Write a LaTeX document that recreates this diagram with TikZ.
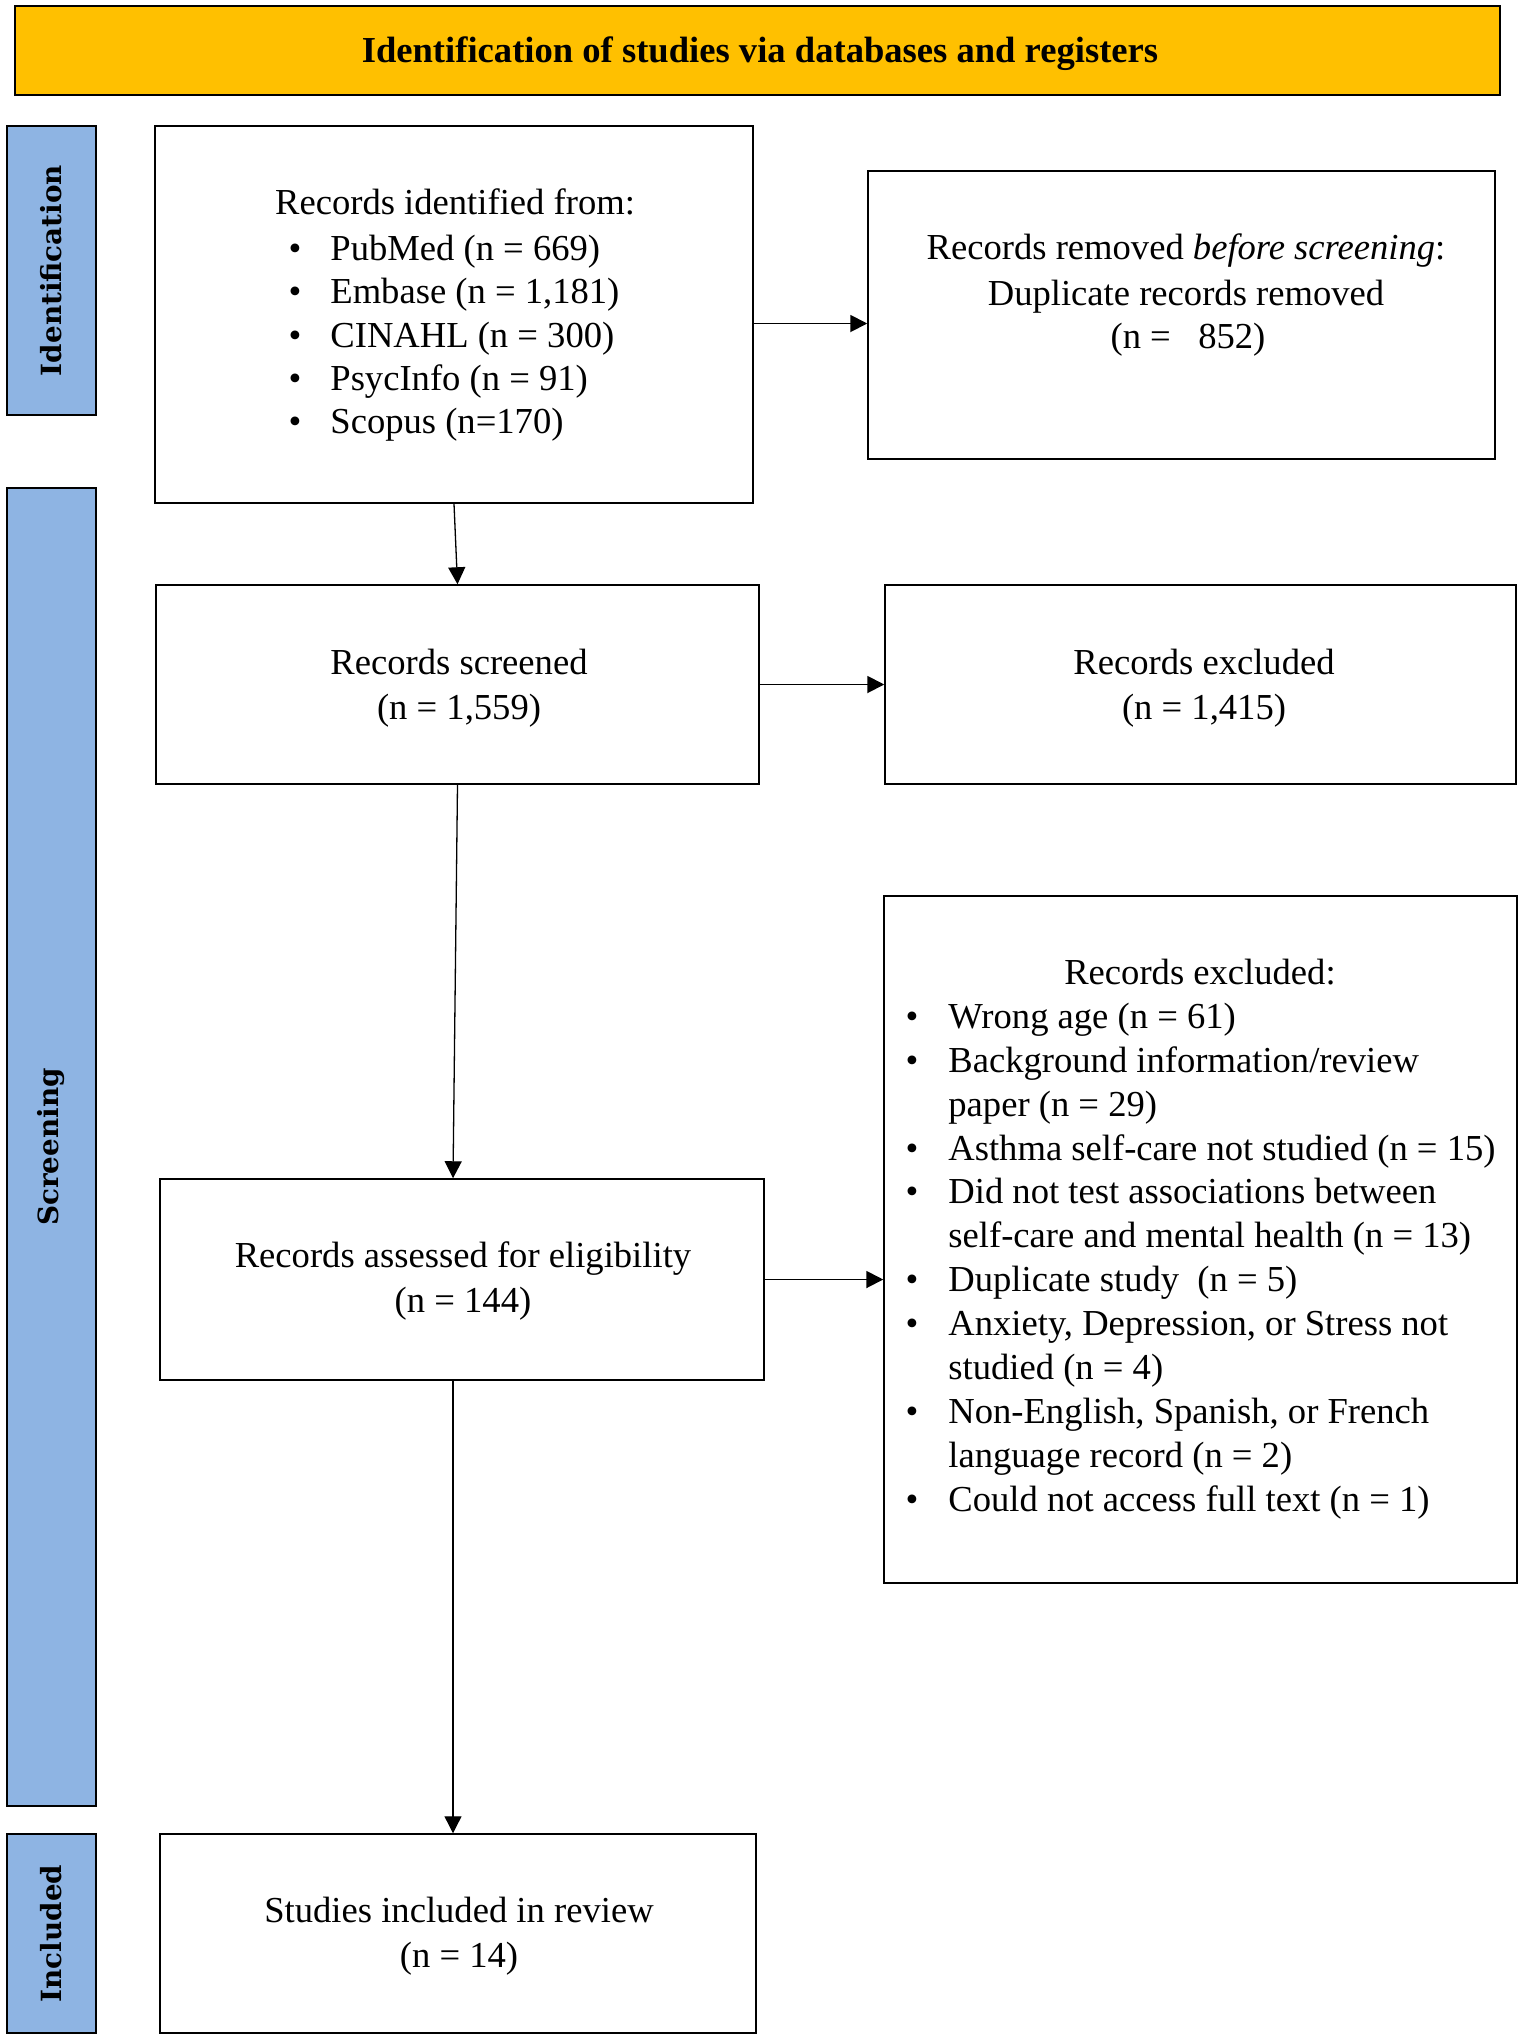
\documentclass[tikz,border=0pt]{standalone}
\usepackage{fontspec}
\setmainfont{Liberation Serif}
\newfontfamily\labfont{DejaVu Serif}
\usetikzlibrary{arrows.meta}
\definecolor{bannergold}{RGB}{255,192,0}
\definecolor{sideblue}{RGB}{142,180,227}
\tikzset{
  box/.style={draw=black, line width=0.75pt, fill=white, inner sep=0pt},
  sidebox/.style={draw=black, line width=0.75pt, fill=sideblue, inner sep=0pt, minimum width=44.5pt},
  sidetext/.style={rotate=90, inner sep=0pt, font=\labfont\bfseries\fontsize{13.9}{16}\selectfont},
  txt/.style={inner sep=0pt, anchor=base, font=\fontsize{18.3}{21.8}\selectfont},
  ltxt/.style={inner sep=0pt, anchor=base west, font=\fontsize{18.3}{21.8}\selectfont},
  arr/.style={line width=0.65pt, -{Triangle[length=8.5pt,width=8.5pt]}},
  harr/.style={line width=0.95pt, -{Triangle[length=8.5pt,width=8.5pt]}},
}
\begin{document}
\begin{tikzpicture}[x=0.5pt,y=-0.5pt]
\useasboundingbox (0,0) rectangle (1523,2040);
% banner
\node[box, fill=bannergold, minimum width=742.5pt, minimum height=44.5pt] (banner) at (757.5,50.5) {};
\node[txt, font=\bfseries\fontsize{18.3}{21.8}\selectfont] (bannert) at (760,62) {Identification of studies via databases and registers};
% side labels
\node[sidebox, minimum height=144.5pt] (labid) at (51.5,270.5) {};
\node[sidetext] (labidt) at (labid.center) {Identification};
\node[sidebox, minimum height=659pt] (labscr) at (51.5,1147) {};
\node[sidetext] (labscrt) at (labscr.center) {Screening};
\node[sidebox, minimum height=99.5pt] (labinc) at (51.5,1933.5) {};
\node[sidetext] (labinct) at (labinc.center) {Included};
% boxes
\node[box, minimum width=299pt, minimum height=188.5pt] (ident) at (454,314.5) {};
\node[box, minimum width=313.5pt, minimum height=144pt] (removed) at (1181.5,315) {};
\node[box, minimum width=301.5pt, minimum height=99.5pt] (screened) at (457.5,684.5) {};
\node[box, minimum width=315.5pt, minimum height=99.5pt] (excluded) at (1200.5,684.5) {};
\node[box, minimum width=302pt, minimum height=100.5pt] (elig) at (462,1279.5) {};
\node[box, minimum width=316.5pt, minimum height=343.5pt] (excl2) at (1200.5,1239.5) {};
\node[box, minimum width=298pt, minimum height=99.5pt] (incl) at (458,1933.5) {};
% identification text
\node[txt] (i0) at (455,214) {Records identified from:};
\node[txt] (ib1) at (295,260) {•};
\node[ltxt] (i1) at (330,260) {PubMed (n = 669)};
\node[txt] (ib2) at (295,303) {•};
\node[ltxt] (i2) at (330,303) {Embase (n = 1,181)};
\node[txt] (ib3) at (295,347) {•};
\node[ltxt] (i3) at (330,347) {CINAHL (n = 300)};
\node[txt] (ib4) at (295,390) {•};
\node[ltxt] (i4) at (330,390) {PsycInfo (n = 91)};
\node[txt] (ib5) at (295,433) {•};
\node[ltxt] (i5) at (330,433) {Scopus (n=170)};
% removed text
\node[txt] (r0) at (1186,259) {Records removed \textit{before screening}:};
\node[txt] (r1) at (1186,305) {Duplicate records removed};
\node[txt] (r2) at (1188,348) {(n =\ \ \ 852)};
% screened
\node[txt] (s0) at (459,674) {Records screened};
\node[txt] (s1) at (459,719) {(n = 1,559)};
\node[txt] (e0) at (1204,674) {Records excluded};
\node[txt] (e1) at (1204,719) {(n = 1,415)};
% eligibility
\node[txt] (g0) at (463,1267) {Records assessed for eligibility};
\node[txt] (g1) at (463,1312) {(n = 144)};
% excluded list
\node[txt] (x0) at (1200,984) {Records excluded:};
\node[txt] (xb1) at (912,1028) {•};
\node[ltxt] (x1) at (948,1028) {Wrong age (n = 61)};
\node[txt] (xb2) at (912,1072) {•};
\node[ltxt] (x2) at (948,1072) {Background information/review};
\node[ltxt] (x2b) at (948,1116) {paper (n = 29)};
\node[txt] (xb3) at (912,1160) {•};
\node[ltxt] (x3) at (948,1160) {Asthma self-care not studied (n = 15)};
\node[txt] (xb4) at (912,1203) {•};
\node[ltxt] (x4) at (948,1203) {Did not test associations between};
\node[ltxt] (x4b) at (948,1247) {self-care and mental health (n = 13)};
\node[txt] (xb5) at (912,1291) {•};
\node[ltxt] (x5) at (948,1291) {Duplicate study\ \ (n = 5)};
\node[txt] (xb6) at (912,1335) {•};
\node[ltxt] (x6) at (948,1335) {Anxiety, Depression, or Stress not};
\node[ltxt] (x6b) at (948,1379) {studied (n = 4)};
\node[txt] (xb7) at (912,1423) {•};
\node[ltxt] (x7) at (948,1423) {Non-English, Spanish, or French};
\node[ltxt] (x7b) at (948,1467) {language record (n = 2)};
\node[txt] (xb8) at (912,1511) {•};
\node[ltxt] (x8) at (948,1511) {Could not access full text (n = 1)};
% included
\node[txt] (n0) at (459,1922) {Studies included in review};
\node[txt] (n1) at (459,1967) {(n = 14)};
% arrows
\draw[harr] ([yshift=-4.5pt]ident.east) -- ([yshift=-4.5pt]ident.east -| removed.west);
\draw[arr] (ident.south) -- (screened.north);
\draw[harr] (screened.east) -- (excluded.west);
\draw[arr] (screened.south) -- ([xshift=-4.5pt]elig.north);
\draw[harr] (elig.east) -- (elig.east -| excl2.west);
\draw[arr] ([xshift=-4.5pt]elig.south) -- ([xshift=-4.5pt]elig.south |- incl.north);
\end{tikzpicture}
\end{document}
